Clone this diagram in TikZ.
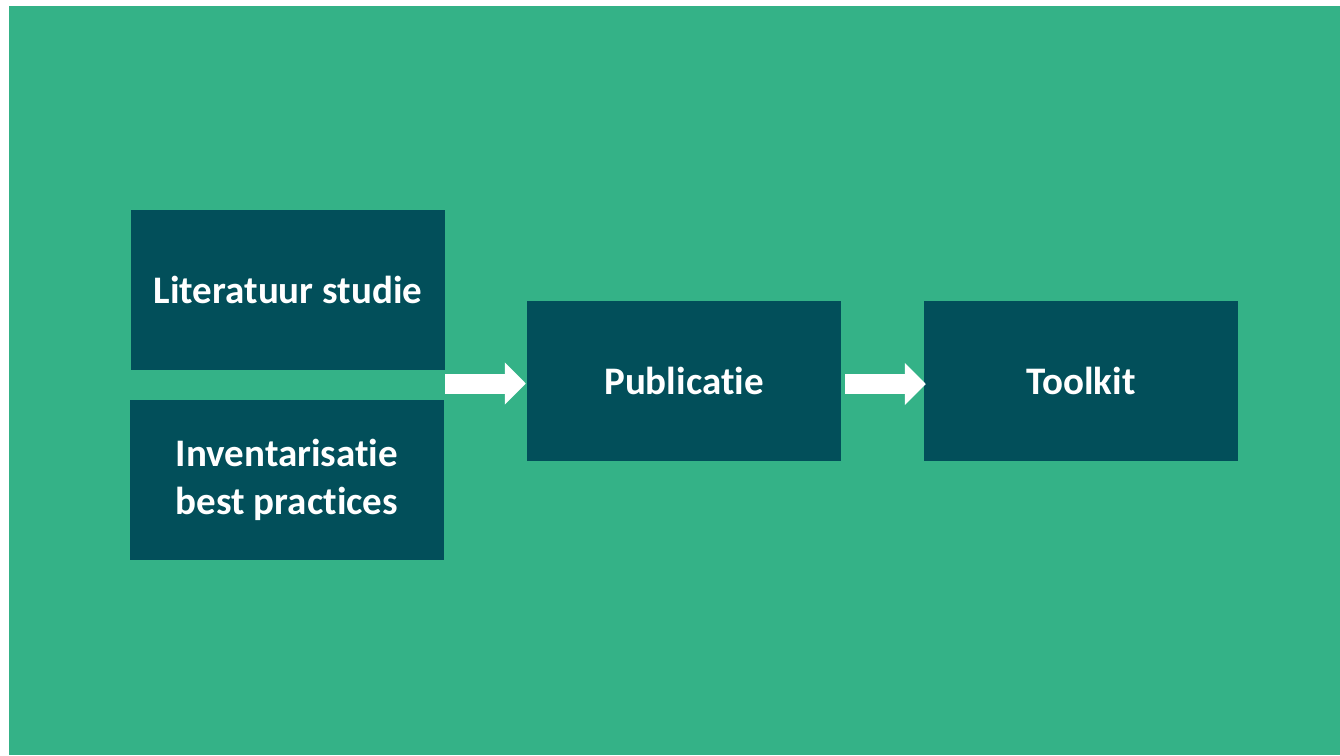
\documentclass[tikz,border=0pt]{standalone}
\usepackage{fontspec}
\setmainfont[Ligatures=NoCommon]{Carlito}
\usetikzlibrary{arrows.meta}
\definecolor{bggreen}{RGB}{52,178,135}
\definecolor{boxteal}{RGB}{2,79,90}
\tikzset{
  blockbox/.style={fill=boxteal, draw=none, minimum width=314pt, minimum height=160pt, inner sep=0pt,
    text=white, font=\fontsize{39}{48}\selectfont\bfseries, align=center},
  blockarrow/.style={draw=white, line width=20pt, -{Triangle[length=21pt,width=41pt]}}
}
\begin{document}
\begin{tikzpicture}[x=1pt,y=-1pt]
\useasboundingbox (0,0) rectangle (1340,755);
\fill[white] (0,0) rectangle (1340,755);
\fill[bggreen] (9,6) rectangle (1340,755);
\node[blockbox] (lit) at (288,290) {Literatuur studie};
\node[blockbox] (inv) at (287,480) {Inventarisatie\\best practices};
\node[blockbox] (pub) at (684,380.5) {Publicatie};
\node[blockbox] (tool) at (1081,381) {Toolkit};
\coordinate (a1) at (445,383.5);
\coordinate (a2) at (845,384);
\draw[blockarrow] (a1) -- ([xshift=-1pt]a1 -| pub.west);
\draw[blockarrow] (a2) -- ([xshift=2pt]a2 -| tool.west);
\end{tikzpicture}
\end{document}
